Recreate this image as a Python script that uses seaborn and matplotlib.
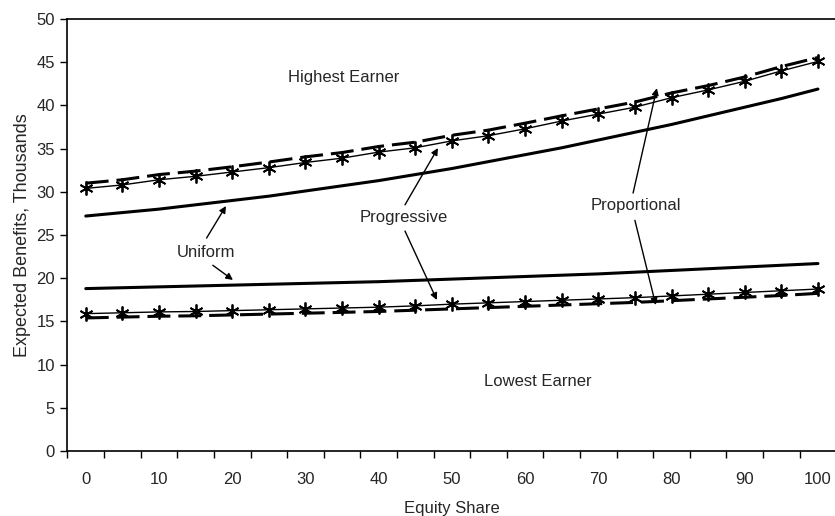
import numpy as np
import pandas as pd
import seaborn as sns
import matplotlib.pyplot as plt

# equity share categories (percent)
equity_share = [0, 5, 10, 15, 20, 25, 30, 35, 40, 45, 50,
                55, 60, 65, 70, 75, 80, 85, 90, 95, 100]

# expected benefits, thousands
high_uniform = [27.2, 27.6, 28.0, 28.5, 29.0, 29.5, 30.1, 30.7, 31.3, 32.0, 32.7,
                33.5, 34.3, 35.1, 36.0, 36.9, 37.8, 38.8, 39.8, 40.8, 41.9]
high_progressive = [30.4, 30.8, 31.4, 31.8, 32.3, 32.8, 33.4, 33.9, 34.6, 35.1, 35.9,
                    36.5, 37.3, 38.2, 39.0, 39.8, 40.9, 41.8, 42.8, 44.0, 45.1]
high_proportional = [31.0, 31.4, 32.0, 32.4, 32.9, 33.45, 34.05, 34.55, 35.25, 35.75, 36.55,
                     37.15, 37.95, 38.8, 39.6, 40.4, 41.45, 42.3, 43.3, 44.5, 45.55]
low_uniform = [18.8, 18.9, 19.0, 19.1, 19.2, 19.3, 19.4, 19.5, 19.6, 19.75, 19.9,
               20.05, 20.2, 20.35, 20.5, 20.7, 20.9, 21.1, 21.3, 21.5, 21.7]
low_progressive = [15.9, 16.0, 16.1, 16.15, 16.25, 16.35, 16.45, 16.55, 16.65, 16.8, 17.0,
                   17.15, 17.3, 17.45, 17.6, 17.75, 17.95, 18.15, 18.35, 18.55, 18.75]
low_proportional = [15.4, 15.5, 15.6, 15.65, 15.75, 15.85, 15.95, 16.05, 16.15, 16.3, 16.45,
                    16.6, 16.75, 16.9, 17.05, 17.2, 17.4, 17.6, 17.8, 18.0, 18.25]

sns.set_style("white")
plt.rcParams['font.family'] = ['Liberation Sans', 'DejaVu Sans']
fs = 12

fig = plt.figure(figsize=(8.35, 5.16), dpi=100)
ax = fig.add_axes([0.0808, 0.126, 0.9207, 0.837])

pos = np.arange(len(equity_share))
df = pd.DataFrame({"pos": pos,
                   "high_uniform": high_uniform, "high_progressive": high_progressive,
                   "high_proportional": high_proportional, "low_uniform": low_uniform,
                   "low_progressive": low_progressive, "low_proportional": low_proportional})

star = (6, 2, 0)
for lvl in ["high", "low"]:
    sns.lineplot(data=df, x="pos", y=lvl + "_uniform", ax=ax, color="black", lw=2.2)
    sns.lineplot(data=df, x="pos", y=lvl + "_proportional", ax=ax, color="black",
                 lw=2.2, linestyle=(0, (7.5, 2.6)))
    sns.lineplot(data=df, x="pos", y=lvl + "_progressive", ax=ax, color="black", lw=1.0,
                 marker=star, markersize=10, markeredgecolor="black", markeredgewidth=1.3)

ax.set_xlim(-0.5, 20.5)
ax.set_ylim(0, 50)
ax.set_yticks(np.arange(0, 51, 5))
ax.set_xticks(pos[::2])
ax.set_xticklabels([str(v) for v in equity_share[::2]])
ax.set_xticks(np.arange(-0.5, 21, 1), minor=True)
ax.tick_params(axis="x", which="major", length=0, pad=15, labelsize=fs)
ax.tick_params(axis="x", which="minor", bottom=True, length=5, width=1, color="black")
ax.tick_params(axis="y", left=True, length=5, width=1, color="black", pad=4, labelsize=fs)

for side in ["left", "bottom", "top"]:
    ax.spines[side].set_color("black")
    ax.spines[side].set_linewidth(1.2)
ax.spines["right"].set_visible(False)

ax.set_xlabel("Equity Share", fontsize=fs, labelpad=10)
ax.set_ylabel("Expected Benefits, Thousands", fontsize=13, labelpad=4)

ax.text(7.05, 43.2, "Highest Earner", ha="center", va="center", fontsize=fs)
ax.text(12.35, 8.1, "Lowest Earner", ha="center", va="center", fontsize=fs)
ax.text(3.28, 23.0, "Uniform", ha="center", va="center", fontsize=fs)
ax.text(8.69, 27.0, "Progressive", ha="center", va="center", fontsize=fs)
ax.text(15.03, 28.4, "Proportional", ha="center", va="center", fontsize=fs)

arrow = dict(arrowstyle="-|>", color="black", lw=1, mutation_scale=10, shrinkA=0, shrinkB=0)
arrows = [((3.3, 24.65), (3.83, 28.36)), ((3.47, 21.5), (4.02, 19.8)),
          ((8.72, 28.5), (9.62, 35.07)), ((8.72, 25.46), (9.59, 17.48)),
          ((14.95, 29.86), (15.6, 42.0)), ((15.0, 26.7), (15.57, 16.9))]
for tail, tip in arrows:
    ax.annotate("", xy=tip, xytext=tail, arrowprops=arrow)

fig.savefig("out.png", dpi=100)
